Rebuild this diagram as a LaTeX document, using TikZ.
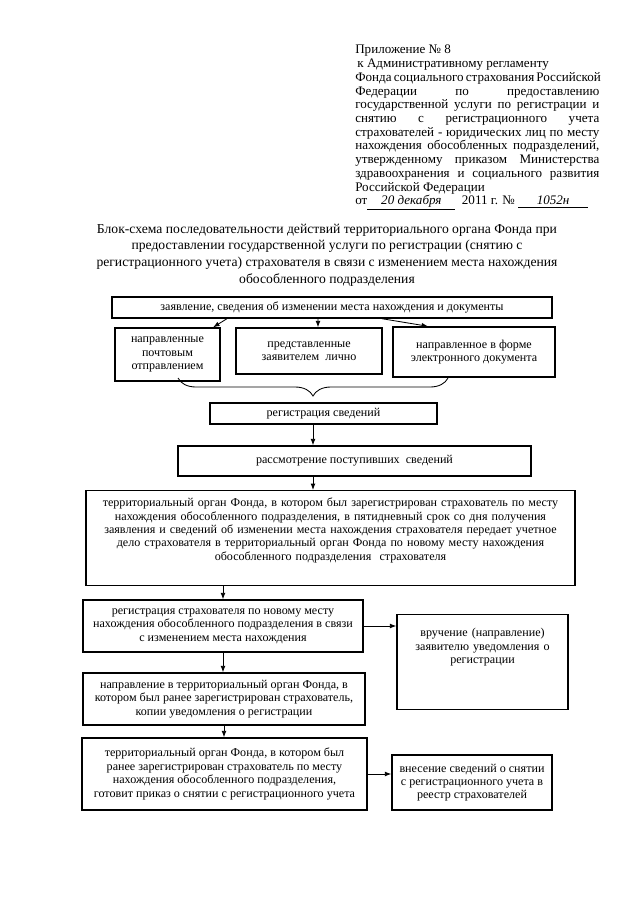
\documentclass[tikz,border=0pt]{standalone}
\usepackage{fontspec}
\setmainfont{Liberation Serif}
\usetikzlibrary{arrows.meta,positioning,decorations.pathreplacing}
\newcommand{\jline}[1]{\makebox[6.1cm][s]{#1}}

\begin{document}
\begin{tikzpicture}[x=0.025cm,y=-0.025cm,
 bx/.style={draw,line width=1pt,align=center,inner sep=1pt,font=\fontsize{8.6}{9.5}\selectfont},
 tb/.style={bx,anchor=north,inner sep=0pt},
 a/.style={-{Latex[length=1.6mm,width=1.2mm]},line width=0.6pt}
]
\useasboundingbox[fill=white] (0,0) rectangle (640,905);
% header
\node[anchor=north west,inner sep=0pt,align=left,font=\fontsize{9.3}{9.75}\selectfont] (hd) at (355,45) {Приложение № 8\\
\hspace{1.5pt}к Административному регламенту\\
\jline{Фонда социального страхования Российской}\\
\jline{Федерации по предоставлению}\\
\jline{государственной услуги по регистрации и}\\
\jline{снятию с регистрационного учета}\\
\jline{страхователей - юридических лиц по месту}\\
\jline{нахождения обособленных подразделений,}\\
\jline{утвержденному приказом Министерства}\\
\jline{здравоохранения и социального развития}\\
Российской Федерации\\
от\underline{\makebox[2.2cm]{\itshape 20 декабря}}\ \ 2011 г. № \underline{\makebox[1.75cm]{\itshape 1052н}}};
\node[align=center,font=\fontsize{9.7}{11.8}\selectfont] (ttl) at (327,255) {Блок-схема последовательности действий территориального органа Фонда при\\
предоставлении государственной услуги по регистрации (снятию с\\
регистрационного учета) страхователя в связи с изменением места нахождения\\
обособленного подразделения};
% boxes
\node[bx,minimum width=11cm,minimum height=0.525cm] (zv) at (332,307.5) {заявление, сведения об изменении места нахождения и документы};
\node[bx,minimum width=2.625cm,minimum height=1.325cm] (pc) at (167.5,354.5) {направленные\\почтовым\\отправлением};
\node[bx,minimum width=3.65cm,minimum height=1.15cm] (pr) at (309,351) {представленные\\заявителем\ \ лично};
\node[bx,minimum width=4.05cm,minimum height=1.25cm] (el) at (474,352) {направленное в форме\\электронного документа};
\node[bx,minimum width=5.675cm,minimum height=0.525cm] (reg) at (323.5,413.5) {регистрация сведений};
\node[bx,minimum width=8.825cm,minimum height=0.75cm] (rass) at (354.5,461) {рассмотрение поступивших\ \ сведений};
\node[tb,text width=12.1cm,minimum width=12.225cm,text height=0.4cm,text depth=1.975cm] (ud) at (330.5,490) {территориальный орган Фонда, в котором был зарегистрирован страхователь по месту\\
нахождения обособленного подразделения, в пятидневный срок со дня получения\\
заявления и сведений об изменении места нахождения страхователя передает учетное\\
дело страхователя в территориальный орган Фонда по новому месту нахождения\\
обособленного подразделения\ \ страхователя};
\node[bx,minimum width=7cm,minimum height=1.3cm] (rg) at (223,626) {регистрация страхователя по новому месту\\нахождения обособленного подразделения в связи\\с изменением места нахождения};
\node[tb,text width=4.1cm,minimum width=4.275cm,text height=0.55cm,text depth=1.825cm] (vr) at (482.5,614) {вручение (направление)\\заявителю уведомления о\\регистрации};
\node[bx,minimum width=7.05cm,minimum height=1.3cm] (nap) at (224,699) {направление в территориальный орган Фонда, в\\котором был ранее зарегистрирован страхователь,\\копии уведомления о регистрации};
\node[bx,minimum width=7.125cm,minimum height=1.8cm] (sn) at (224.5,774) {территориальный орган Фонда, в котором был\\ранее зарегистрирован страхователь по месту\\нахождения обособленного подразделения,\\готовит приказ о снятии с регистрационного учета};
\node[bx,minimum width=4cm,minimum height=1.375cm] (vs) at (472,782.5) {внесение сведений о снятии\\с регистрационного учета в\\реестр страхователей};
% connectors
\coordinate (ax) at (313,397);
\coordinate (bl) at (178,378);
\coordinate (br) at (448,378);
\draw[a] ([xshift=-2.625cm]zv.south) -- ([xshift=1.14cm]pc.north);
\draw[a] ([xshift=-0.35cm]zv.south) -- ([xshift=0.225cm]pr.north);
\draw[a] ([xshift=1.25cm]zv.south) -- ([xshift=-1.15cm]el.north);
\draw[line width=0.6pt,decorate,decoration={brace,mirror,amplitude=0.45cm}] (bl) -- (br);
\draw[a] (ax |- reg.south) -- (ax |- rass.north);
\draw[a] (ax |- rass.south) -- (ax |- ud.north);
\draw[a] (rg.north |- ud.south) -- (rg.north);
\draw[a] (rg.east) -- (rg.east -| vr.west);
\draw[a] (rg.south) -- (rg.south |- nap.north);
\draw[a] (nap.south) -- (nap.south |- sn.north);
\draw[a] (sn.east) -- (sn.east -| vs.west);
\end{tikzpicture}
\end{document}
